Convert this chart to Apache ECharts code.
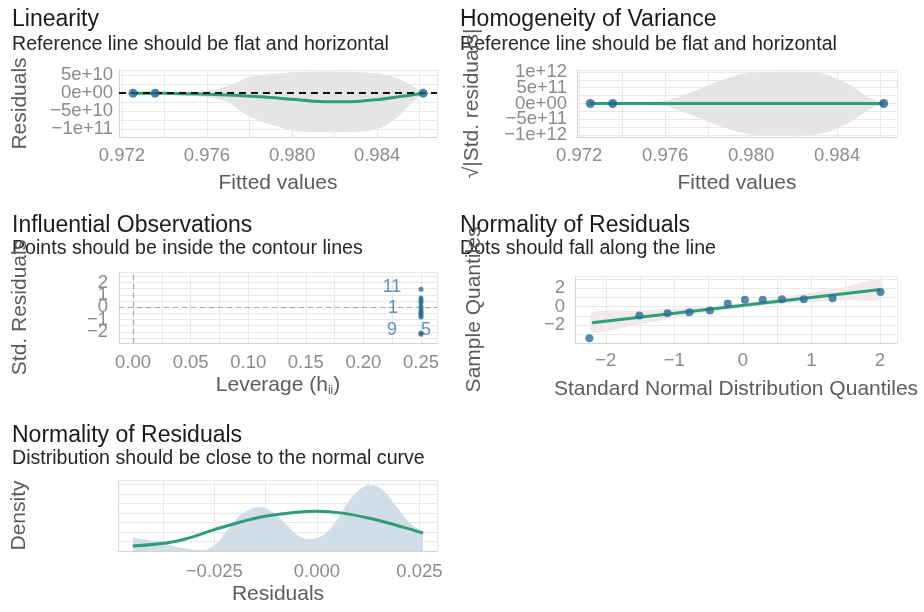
<!DOCTYPE html>
<html><head><meta charset="utf-8">
<script src="https://cdn.jsdelivr.net/npm/echarts@6/dist/echarts.min.js"></script>
<style>html,body{margin:0;padding:0;background:#fff}#c{width:924px;height:612px}</style>
</head><body><div id="c"></div>
<script>
// ---------- Linearity ----------
const linFitted = [0.97252, 0.97356, 0.98617];
const linResid = [0, 0, 0];
const linSmoothX = [0.97252, 0.974, 0.976, 0.9785, 0.980, 0.981, 0.982, 0.983, 0.984, 0.985, 0.98617];
const linSmoothY = [0, -0.05e10, -0.3e10, -1.0e10, -1.7e10, -2.2e10, -2.4e10, -2.3e10, -1.8e10, -1.0e10, 0];
const linBandX = [0.97252, 0.974, 0.976, 0.977, 0.978, 0.980, 0.982, 0.984, 0.985, 0.9855, 0.98617];
const linBandLo = [0, -0.3e10, -1.2e10, -2.5e10, -6.5e10, -1.03e11, -1.08e11, -1.0e11, -6.5e10, -3.5e10, 0];
const linBandHi = [0, 0.2e10, 0.7e10, 2.0e10, 4.5e10, 5.8e10, 6.0e10, 5.5e10, 4.0e10, 2.5e10, 0];

// ---------- Homogeneity of variance ----------
const homFitted = [0.97252, 0.97356, 0.98617];
const homSqrtRes = [0, 0, 0];
const homSmoothX = [0.97252, 0.98617];
const homSmoothY = [0, 0];
const homBandX = [0.97252, 0.974, 0.9759, 0.9768, 0.97815, 0.97955, 0.9811, 0.9833, 0.98454, 0.98547, 0.98617];
const homBandHi = [0, 0.02e12, 0.08e12, 0.25e12, 0.61e12, 0.93e12, 1.0e12, 0.95e12, 0.61e12, 0.2e12, 0];
const homBandLo = [0, -0.02e12, -0.08e12, -0.25e12, -0.61e12, -0.93e12, -1.0e12, -0.95e12, -0.61e12, -0.2e12, 0];

// ---------- Influential observations ----------
const infLeverage = [0.25, 0.25, 0.25, 0.25, 0.25, 0.25, 0.25, 0.25, 0.25, 0.25, 0.25, 0.25];
const infStdRes = [1.45, 0.75, 0.55, 0.35, 0.05, -0.15, -0.35, -0.5, -0.65, -0.8, -2.1, -2.2];
const infLabelIds = ['11', '1', '9', '5'];
const infLabelLev = [0.25, 0.25, 0.25, 0.25];
const infLabelRes = [1.45, 0.05, -2.1, -2.2];
const infSmoothX = [0.25, 0.25];
const infSmoothY = [0.8, -0.65];

// ---------- QQ plot ----------
const qqTheo = [-2.24, -1.51, -1.10, -0.78, -0.48, -0.22, 0.03, 0.29, 0.57, 0.89, 1.31, 2.01];
const qqSample = [-3.4, -0.95, -0.7, -0.6, -0.42, 0.35, 0.74, 0.74, 0.8, 0.8, 0.9, 1.58];
const qqLineX = [-2.2, 2.01];
const qqLineY = [-1.72, 1.86];
const qqBandX = [-2.2, -1.5, -1.0, -0.5, 0, 0.5, 1.0, 1.5, 2.01];
const qqBandLo = [-2.77, -1.83, -1.20, -0.60, -0.10, 0.26, 0.50, 0.73, 0.81];
const qqBandHi = [-0.67, -0.43, -0.20, 0.05, 0.40, 0.90, 1.50, 2.13, 2.91];

// ---------- Density ----------
const densX = [-0.0449, -0.0383, -0.0341, -0.0278, -0.0244, -0.0212, -0.0180, -0.0139, -0.0107, -0.0073, -0.0041, -0.0017, 0.0015, 0.0049, 0.0080, 0.0112, 0.0134, 0.0161, 0.0195, 0.0227, 0.0259];
const densY = [5.5, 3.8, 1.7, 0.4, 3.4, 10.1, 16.0, 18.5, 16.4, 10.9, 5.9, 5.1, 6.7, 13.1, 21.5, 26.9, 27.8, 25.7, 18.5, 11.8, 8.0];
const normX = [-0.0449, -0.0341, -0.0237, -0.0139, -0.0049, 0, 0.0063, 0.0146, 0.0210, 0.0259];
const normY = [2.1, 4.2, 9.7, 14.3, 16.4, 16.8, 16.0, 13.1, 10.1, 7.6];

// ---------- helpers ----------
const FONT = '"Liberation Sans", Arial, Helvetica, sans-serif';
const GREEN = '#2e9e78';
const BLUE = '#1f628e';
const MINUS = '\u2212';
const TITLE = 23, SUB = 19.6, AX = 21;
const zip = (a, b) => a.map((v, i) => [v, b[i]]);
const isMajor = (v, m) => Math.abs(v / m - Math.round(v / m)) < 1e-6;
const fixed = d => v => (v < 0 ? MINUS : '') + Math.abs(v).toFixed(d);
const intFmt = v => (v < 0 ? MINUS : '') + Math.abs(Math.round(v));
function sci(v) {
  if (Math.abs(v) < 1) return '0e+00';
  const e = Math.floor(Math.log10(Math.abs(v)) + 1e-9);
  const m = Math.round(v / Math.pow(10, e) * 100) / 100;
  return (m < 0 ? MINUS : '') + Math.abs(m) + 'e+' + (e < 10 ? '0' + e : e);
}
function vAxis(o) {
  return {
    type: 'value', gridIndex: o.g, min: o.min, max: o.max,
    minInterval: o.step, maxInterval: o.step,
    axisLine: { show: true, onZero: false, lineStyle: { color: '#d4d4d4', width: 1 } },
    axisTick: { show: false },
    splitLine: { show: true, lineStyle: { color: '#e8e8e8', width: 1 } },
    axisLabel: {
      show: !!o.fmt, margin: o.margin || 8, color: '#8c8c8c', fontSize: 18.5, fontFamily: FONT,
      hideOverlap: false, showMinLabel: false, showMaxLabel: false,
      formatter: v => (o.fmt && isMajor(v, o.major)) ? o.fmt(v) : ''
    }
  };
}
function ribbon(xi, xs, lo, hi, color) {
  return {
    type: 'custom', xAxisIndex: xi, yAxisIndex: xi, silent: true, z: 1, clip: true,
    data: xs.map((x, i) => [x, lo[i], hi[i]]),
    renderItem: function (params, api) {
      if (params.dataIndex !== 0) return;
      const pts = [];
      for (let i = 0; i < xs.length; i++) pts.push(api.coord([xs[i], hi[i]]));
      for (let i = xs.length - 1; i >= 0; i--) pts.push(api.coord([xs[i], lo[i]]));
      return { type: 'polygon', shape: { points: pts, smooth: 0.25 }, style: { fill: color } };
    }
  };
}
function txt(x, y, text, size, color, rot, extra) {
  return {
    type: 'text', x: x, y: y, rotation: rot || 0, silent: true,
    style: Object.assign({ text: text, fill: color, font: size + 'px ' + FONT, align: 'left', verticalAlign: 'middle' }, extra || {})
  };
}

const chart = echarts.init(document.getElementById('c'), null, { renderer: 'canvas' });
const option = {
  animation: false,
  backgroundColor: '#ffffff',
  grid: [
    { left: 119, top: 70, width: 318, height: 67 },
    { left: 577, top: 70, width: 320, height: 67 },
    { left: 119, top: 272, width: 318, height: 71 },
    { left: 575, top: 276, width: 322, height: 67 },
    { left: 118, top: 480, width: 319, height: 71 }
  ],
  xAxis: [
    vAxis({ g: 0, min: 0.97186, max: 0.98682, step: 0.002, major: 0.004, fmt: fixed(3), margin: 9 }),
    vAxis({ g: 1, min: 0.9719, max: 0.98679, step: 0.002, major: 0.004, fmt: fixed(3), margin: 9 }),
    vAxis({ g: 2, min: -0.0122, max: 0.2639, step: 0.025, major: 0.05, fmt: fixed(2), margin: 10 }),
    vAxis({ g: 3, min: -2.45, max: 2.25, step: 0.5, major: 1, fmt: intFmt, margin: 8 }),
    vAxis({ g: 4, min: -0.0485, max: 0.0293, step: 0.0125, major: 0.025, fmt: fixed(3), margin: 11 })
  ],
  yAxis: [
    vAxis({ g: 0, min: -1.21e11, max: 6.4e10, step: 2.5e10, major: 5e10, fmt: sci, margin: 6 }),
    vAxis({ g: 1, min: -1.06e12, max: 1.06e12, step: 2.5e11, major: 5e11, fmt: sci, margin: 10 }),
    vAxis({ g: 2, min: -2.9, max: 2.85, step: 0.5, major: 1, fmt: intFmt, margin: 11 }),
    vAxis({ g: 3, min: -3.9, max: 3.3, step: 1, major: 2, fmt: intFmt, margin: 10 }),
    vAxis({ g: 4, min: 0, max: 30, step: 4, major: 4, fmt: null })
  ],
  series: [
    // Linearity
    ribbon(0, linBandX, linBandLo, linBandHi, '#e5e5e5'),
    {
      type: 'line', xAxisIndex: 0, yAxisIndex: 0, data: zip(linSmoothX, linSmoothY), smooth: 0.4,
      showSymbol: false, lineStyle: { color: GREEN, width: 3 }, z: 3,
      markLine: { silent: true, symbol: 'none', label: { show: false },
        lineStyle: { color: '#111', width: 2, type: [7, 5] }, data: [{ yAxis: 0 }] }
    },
    { type: 'scatter', xAxisIndex: 0, yAxisIndex: 0, data: zip(linFitted, linResid), symbolSize: 9,
      itemStyle: { color: BLUE }, z: 5 },
    // Homogeneity
    ribbon(1, homBandX, homBandLo, homBandHi, '#e5e5e5'),
    { type: 'line', xAxisIndex: 1, yAxisIndex: 1, data: zip(homSmoothX, homSmoothY), showSymbol: false,
      lineStyle: { color: GREEN, width: 3 }, z: 3 },
    { type: 'scatter', xAxisIndex: 1, yAxisIndex: 1, data: zip(homFitted, homSqrtRes), symbolSize: 9,
      itemStyle: { color: BLUE }, z: 5 },
    // Influential
    {
      type: 'line', xAxisIndex: 2, yAxisIndex: 2, data: zip(infSmoothX, infSmoothY), showSymbol: false,
      lineStyle: { color: GREEN, width: 2.5 }, z: 3,
      markLine: { silent: true, symbol: 'none', label: { show: false },
        lineStyle: { color: '#a6a6a6', width: 1.2, type: [5, 4] }, data: [{ yAxis: 0 }, { xAxis: 0 }] }
    },
    { type: 'scatter', xAxisIndex: 2, yAxisIndex: 2, data: zip(infLeverage, infStdRes), symbolSize: 5,
      itemStyle: { color: '#2a6f8f' }, z: 5 },
    {
      type: 'scatter', xAxisIndex: 2, yAxisIndex: 2, symbolSize: 0, z: 6,
      data: infLabelIds.map((id, i) => ({
        value: [infLabelLev[i], infLabelRes[i]], name: id,
        label: { offset: [[-29, -2], [-28, 1], [-29, -3], [5, -4]][i] }
      })),
      label: { show: true, position: 'inside', formatter: p => p.name, color: '#3b78ae',
        fontSize: 18, fontFamily: FONT }
    },
    // QQ
    ribbon(3, qqBandX, qqBandLo, qqBandHi, '#f0eaea'),
    { type: 'line', xAxisIndex: 3, yAxisIndex: 3, data: zip(qqLineX, qqLineY), showSymbol: false,
      lineStyle: { color: GREEN, width: 3 }, z: 3 },
    { type: 'scatter', xAxisIndex: 3, yAxisIndex: 3, data: zip(qqTheo, qqSample), symbolSize: 8,
      itemStyle: { color: '#2a6c98' }, z: 5 },
    // Density
    { type: 'line', xAxisIndex: 4, yAxisIndex: 4, data: zip(densX, densY), smooth: 0.4, showSymbol: false,
      lineStyle: { width: 0 }, areaStyle: { color: '#d1dde7', opacity: 1 }, z: 2 },
    { type: 'line', xAxisIndex: 4, yAxisIndex: 4, data: zip(normX, normY), smooth: 0.4, showSymbol: false,
      lineStyle: { color: GREEN, width: 3 }, z: 3 }
  ],
  graphic: [
    // titles
    txt(12, 20, 'Linearity', TITLE, '#1a1a1a'),
    txt(12, 45, 'Reference line should be flat and horizontal', SUB, '#262626'),
    txt(460, 20, 'Homogeneity of Variance', TITLE, '#1a1a1a'),
    txt(460, 45, 'Reference line should be flat and horizontal', SUB, '#262626'),
    txt(12, 225.5, 'Influential Observations', TITLE, '#1a1a1a'),
    txt(12, 248.5, 'Points should be inside the contour lines', SUB, '#262626'),
    txt(460, 225.5, 'Normality of Residuals', TITLE, '#1a1a1a'),
    txt(460, 248.5, 'Dots should fall along the line', SUB, '#262626'),
    txt(12, 435.5, 'Normality of Residuals', TITLE, '#1a1a1a'),
    txt(12, 459, 'Distribution should be close to the normal curve', SUB, '#262626'),
    // axis titles
    txt(278, 183.5, 'Fitted values', AX, '#5c5c5c', 0, { align: 'center' }),
    txt(20, 103.5, 'Residuals', AX, '#5c5c5c', Math.PI / 2, { align: 'center' }),
    txt(737, 183.5, 'Fitted values', AX, '#5c5c5c', 0, { align: 'center' }),
    txt(472, 103.5, '\u221A|Std. residuals|', AX, '#5c5c5c', Math.PI / 2, { align: 'center' }),
    txt(278, 385.5, 'Leverage (h{s|ii})', AX, '#5c5c5c', 0, { align: 'center',
      rich: { s: { fontSize: 12, fontFamily: FONT, fill: '#5c5c5c', padding: [10, 0, 0, 0] } } }),
    txt(20, 307.5, 'Std. Residuals', AX, '#5c5c5c', Math.PI / 2, { align: 'center' }),
    txt(736, 389.5, 'Standard Normal Distribution Quantiles', AX, '#5c5c5c', 0, { align: 'center' }),
    txt(474, 309.5, 'Sample Quantiles', AX, '#5c5c5c', Math.PI / 2, { align: 'center' }),
    txt(278, 594.5, 'Residuals', AX, '#5c5c5c', 0, { align: 'center' }),
    txt(19, 515.5, 'Density', AX, '#5c5c5c', Math.PI / 2, { align: 'center' })
  ]
};
chart.setOption(option);
</script>
</body></html>
